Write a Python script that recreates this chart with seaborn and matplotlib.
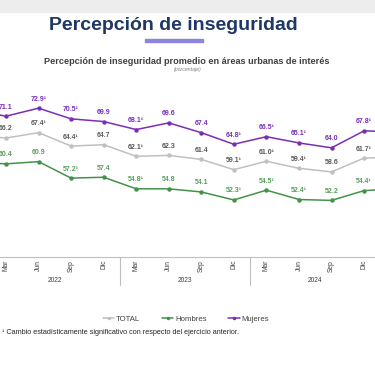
import pandas as pd
import seaborn as sns
import matplotlib.pyplot as plt
from matplotlib.lines import Line2D
from matplotlib.patches import Rectangle
from matplotlib import transforms

# posiciones trimestrales (-1 y 12 quedan fuera del recorte de la imagen)
posiciones = [-1, 0, 1, 2, 3, 4, 5, 6, 7, 8, 9, 10, 11, 12]
meses = ["Mar", "Jun", "Sep", "Dic"] * 3
anios = ["2022", "2023", "2024"]

total = [66.8, 66.2, 67.4, 64.4, 64.7, 62.1, 62.3, 61.4, 59.1, 61.0, 59.4, 58.6, 61.7, 61.9]
hombres = [60.8, 60.4, 60.9, 57.2, 57.4, 54.8, 54.8, 54.1, 52.3, 54.5, 52.4, 52.2, 54.4, 54.8]
mujeres = [72.5, 71.1, 72.9, 70.5, 69.9, 68.1, 69.6, 67.4, 64.8, 66.5, 65.1, 64.0, 67.8, 67.6]

# etiquetas visibles (¹ = cambio significativo)
etq_total = ["66.2", "67.4¹", "64.4¹", "64.7", "62.1¹", "62.3", "61.4", "59.1¹", "61.0¹", "59.4¹", "58.6", "61.7¹"]
etq_hombres = ["60.4", "60.9", "57.2¹", "57.4", "54.8¹", "54.8", "54.1", "52.3¹", "54.5¹", "52.4¹", "52.2", "54.4¹"]
etq_mujeres = ["71.1", "72.9¹", "70.5¹", "69.9", "68.1¹", "69.6", "67.4", "64.8¹", "66.5¹", "65.1¹", "64.0", "67.8¹"]

series = ["TOTAL", "Hombres", "Mujeres"]
colores = {"TOTAL": "#C0C0C0", "Hombres": "#43924A", "Mujeres": "#7A2EB8"}
colores_etq = {"TOTAL": "#595959", "Hombres": "#55A05A", "Mujeres": "#7A2EB8"}

df = pd.DataFrame({
    "pos": posiciones * 3,
    "valor": total + hombres + mujeres,
    "serie": ["TOTAL"] * len(total) + ["Hombres"] * len(hombres) + ["Mujeres"] * len(mujeres),
})

sns.set_style("white")
plt.rcParams["font.family"] = ["Liberation Sans", "DejaVu Sans"]

W, H = 375, 366
fig = plt.figure(figsize=(3.75, 3.66), dpi=100)

# franja gris superior y subrayado del título
fig.patches.append(Rectangle((0, 1 - 12 / H), 1, 12 / H, transform=fig.transFigure,
                             color="#EDEDED", zorder=0))
fig.patches.append(Rectangle((145 / W, 1 - 42 / H), 58 / W, 3 / H, transform=fig.transFigure,
                             color="#8C85E0", zorder=1))

fig.text(173 / W, 1 - 25 / H, "Percepción de inseguridad", ha="center", va="center",
         fontsize=14, fontweight="bold", color="#1F3864")
fig.text(186.5 / W, 1 - 61.5 / H, "Percepción de inseguridad promedio en áreas urbanas de interés",
         ha="center", va="center", fontsize=6.6, fontweight="bold", color="#404040")
fig.text(188 / W, 1 - 70 / H, "(porcentaje)", ha="center", va="center",
         fontsize=3.8, style="italic", color="#808080")

ax = fig.add_axes([0, 1 - 257 / H, 1, 172 / H])
sns.lineplot(data=df, x="pos", y="valor", hue="serie", hue_order=series, palette=colores,
             marker="o", markersize=3.2, markeredgewidth=0, linewidth=1.1, legend=False, ax=ax)
ax.set_xlim(-0.184, 11.336)
ax.set_ylim(39.5, 78.1)

for nombre, etqs, vals in [("TOTAL", etq_total, total), ("Hombres", etq_hombres, hombres),
                           ("Mujeres", etq_mujeres, mujeres)]:
    for i, (t, v) in enumerate(zip(etqs, vals[1:13])):
        ax.annotate(t, (i, v), xytext=(0, 6.5), textcoords="offset points", ha="center",
                    va="center", fontsize=5, fontweight="bold", color=colores_etq[nombre])

sns.despine(ax=ax, left=True)
ax.spines["bottom"].set_color("#BFBFBF")
ax.spines["bottom"].set_linewidth(0.8)
ax.set_yticks([])
ax.set_xticks(range(12))
ax.set_xticklabels(meses, rotation=90, fontsize=4.8, color="#404040")
ax.tick_params(axis="x", length=0, pad=2)
ax.set_xlabel("")
ax.set_ylabel("")

trans = transforms.blended_transform_factory(ax.transData, ax.transAxes)
for i, a in enumerate(anios):
    ax.text(4 * i + 1.5, -24 / 172, a, transform=trans, ha="center", va="center",
            fontsize=4.8, color="#404040")
for xs in [3.5, 7.5]:
    ax.add_line(Line2D([xs, xs], [0, -28 / 172], transform=trans, color="#BFBFBF",
                       linewidth=0.8, clip_on=False))

handles = [Line2D([], [], color=colores[s], marker="o", markersize=2.5, markeredgewidth=0,
                  linewidth=1.1) for s in series]
fig.legend(handles, series, loc="center", bbox_to_anchor=(186 / W, 1 - 319 / H), ncol=3,
           frameon=False, fontsize=5.6, handlelength=1.5, handletextpad=0.2,
           columnspacing=2.8, labelcolor="#404040")

fig.text(2 / W, 1 - 333 / H,
         "¹ Cambio estadísticamente significativo con respecto del ejercicio anterior.",
         ha="left", va="center", fontsize=5.2, color="#262626")

fig.savefig("out.png", dpi=100)
